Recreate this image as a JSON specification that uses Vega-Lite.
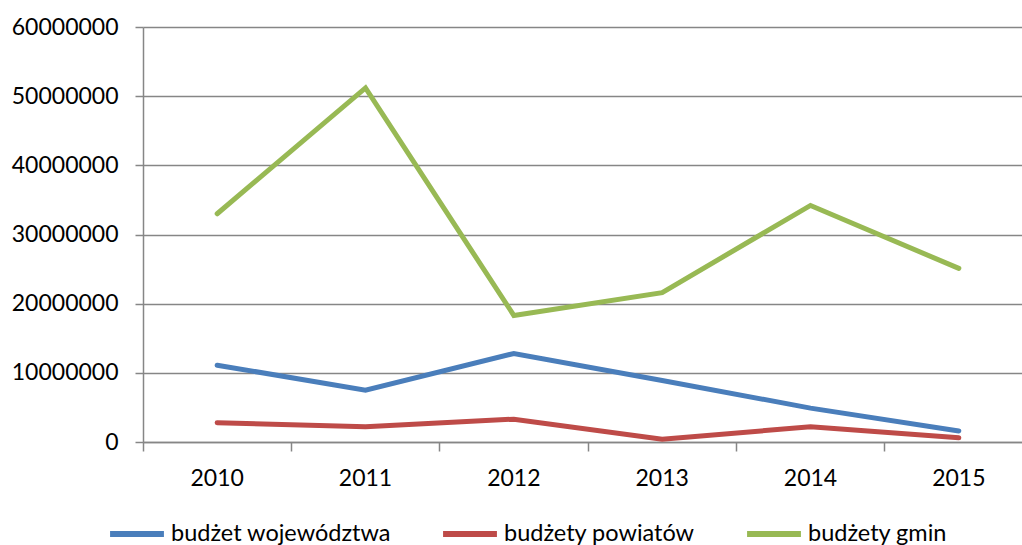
{
  "$schema": "https://vega.github.io/schema/vega-lite/v6.json",
  "width": 890,
  "height": 415,
  "autosize": {"type": "none"},
  "padding": {"left": 143, "top": 27, "right": 0, "bottom": 103},
  "background": "white",
  "config": {
    "view": {"stroke": null},
    "font": "Lato",
    "axis": {"labelFont": "Lato", "labelFontSize": 23, "labelColor": "#000000"},
    "legend": {"labelFont": "Lato", "labelFontSize": 23.5, "labelColor": "#000000", "labelLimit": 0}
  },
  "data": {
    "values": [
      {"rok": "2010", "seria": "budżet województwa", "wartosc": 11100000},
      {"rok": "2011", "seria": "budżet województwa", "wartosc": 7500000},
      {"rok": "2012", "seria": "budżet województwa", "wartosc": 12800000},
      {"rok": "2013", "seria": "budżet województwa", "wartosc": 8900000},
      {"rok": "2014", "seria": "budżet województwa", "wartosc": 4900000},
      {"rok": "2015", "seria": "budżet województwa", "wartosc": 1600000},
      {"rok": "2010", "seria": "budżety powiatów", "wartosc": 2800000},
      {"rok": "2011", "seria": "budżety powiatów", "wartosc": 2200000},
      {"rok": "2012", "seria": "budżety powiatów", "wartosc": 3300000},
      {"rok": "2013", "seria": "budżety powiatów", "wartosc": 400000},
      {"rok": "2014", "seria": "budżety powiatów", "wartosc": 2200000},
      {"rok": "2015", "seria": "budżety powiatów", "wartosc": 600000},
      {"rok": "2010", "seria": "budżety gmin", "wartosc": 33000000},
      {"rok": "2011", "seria": "budżety gmin", "wartosc": 51200000},
      {"rok": "2012", "seria": "budżety gmin", "wartosc": 18300000},
      {"rok": "2013", "seria": "budżety gmin", "wartosc": 21600000},
      {"rok": "2014", "seria": "budżety gmin", "wartosc": 34200000},
      {"rok": "2015", "seria": "budżety gmin", "wartosc": 25100000}
    ]
  },
  "mark": {"type": "line", "strokeWidth": 5, "strokeCap": "round", "strokeJoin": "miter"},
  "encoding": {
    "x": {
      "field": "rok",
      "type": "ordinal",
      "bandPosition": 0.5,
      "scale": {"type": "band", "paddingInner": 0, "paddingOuter": 0},
      "axis": {
        "title": null,
        "bandPosition": 0,
        "labelAngle": 0,
        "labelPadding": 16,
        "tickSize": 9,
        "tickColor": "#868686",
        "tickWidth": 1.5,
        "domainColor": "#868686",
        "domainWidth": 1.5,
        "grid": false
      }
    },
    "y": {
      "field": "wartosc",
      "type": "quantitative",
      "scale": {"domain": [0, 60000000], "nice": false, "zero": true},
      "axis": {
        "title": null,
        "values": [0, 10000000, 20000000, 30000000, 40000000, 50000000, 60000000],
        "format": "d",
        "labelPadding": 17,
        "tickSize": 8,
        "tickColor": "#868686",
        "tickWidth": 1.5,
        "domainColor": "#868686",
        "domainWidth": 1.5,
        "grid": true,
        "gridColor": "#868686",
        "gridWidth": 1.5
      }
    },
    "color": {
      "field": "seria",
      "type": "nominal",
      "sort": ["budżet województwa", "budżety powiatów", "budżety gmin"],
      "scale": {
        "domain": ["budżet województwa", "budżety powiatów", "budżety gmin"],
        "range": ["#4A7EBB", "#BE4B48", "#98B954"]
      },
      "legend": {
        "title": null,
        "orient": "none",
        "direction": "horizontal",
        "legendX": -36,
        "legendY": 477,
        "symbolType": "stroke",
        "symbolSize": 2900,
        "symbolStrokeWidth": 6,
        "labelOffset": 4,
        "labelLimit": 0,
        "columnPadding": 40,
        "padding": 0
      }
    }
  }
}
